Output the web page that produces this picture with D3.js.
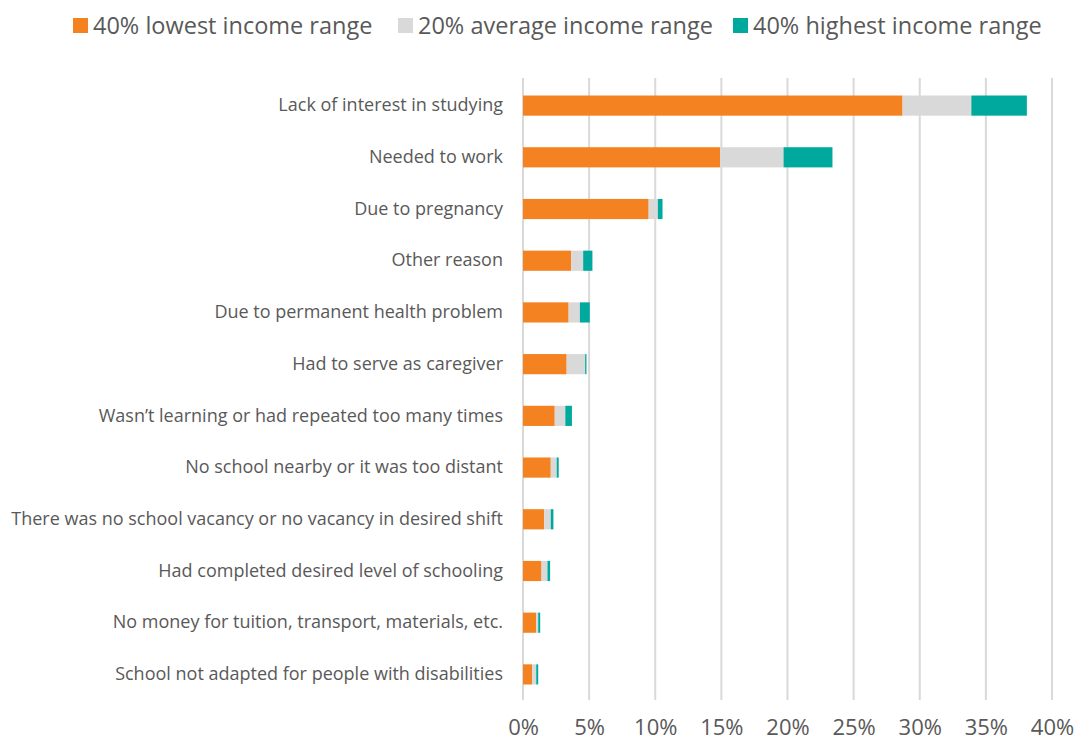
<!DOCTYPE html>
<html>
<head>
<meta charset="utf-8">
<script src="https://cdn.jsdelivr.net/npm/d3@7"></script>
<style>
  html, body { margin: 0; padding: 0; background: #fff; }
  svg { display: block; }
  text { font-family: "Open Sans", Lato, sans-serif; fill: #595959; }
</style>
</head>
<body>
<svg id="chart" width="1079" height="742"></svg>
<script>
// Reasons for leaving school, share of respondents by income range (%)
const categories = [
  "Lack of interest in studying",
  "Needed to work",
  "Due to pregnancy",
  "Other reason",
  "Due to permanent health problem",
  "Had to serve as caregiver",
  "Wasn\u2019t learning or had repeated too many times",
  "No school nearby or it was too distant",
  "There was no school vacancy or no vacancy in desired shift",
  "Had completed desired level of schooling",
  "No money for tuition, transport, materials, etc.",
  "School not adapted for people with disabilities"
];
const lowest  = [28.7, 14.9, 9.5, 3.65, 3.45, 3.3, 2.4, 2.1, 1.6, 1.4, 1.0, 0.7];
const average = [5.2, 4.8, 0.7, 0.9, 0.85, 1.4, 0.8, 0.45, 0.5, 0.45, 0.15, 0.3];
const highest = [4.2, 3.7, 0.35, 0.7, 0.75, 0.1, 0.5, 0.15, 0.2, 0.2, 0.15, 0.15];

const seriesNames = ["40% lowest income range", "20% average income range", "40% highest income range"];
const seriesColors = ["#F58220", "#D9D9D9", "#00A99D"];
const tickValues = [0, 5, 10, 15, 20, 25, 30, 35, 40];

const rows = categories.map((c, i) => ({ category: c, s0: lowest[i], s1: average[i], s2: highest[i] }));
const stack = d3.stack().keys(["s0", "s1", "s2"])(rows);

const svg = d3.select("#chart");
const x = d3.scaleLinear().domain([0, 40]).range([523, 1052]);
const y = d3.scaleBand().domain(categories).range([80, 700]).paddingInner(0.61).paddingOuter(0.3);

// vertical gridlines
svg.append("g").selectAll("line").data(tickValues).join("line")
  .attr("x1", d => x(d)).attr("x2", d => x(d))
  .attr("y1", 78).attr("y2", 700)
  .attr("stroke", "#D9D9D9").attr("stroke-width", 2);

// stacked bars
svg.append("g").selectAll("g").data(stack).join("g")
  .attr("fill", (d, i) => seriesColors[i])
  .selectAll("rect").data(d => d).join("rect")
  .attr("x", d => x(d[0]))
  .attr("width", d => x(d[1]) - x(d[0]))
  .attr("y", d => y(d.data.category))
  .attr("height", y.bandwidth());

// category labels
const yAxis = d3.axisLeft(y).tickSize(0).tickPadding(0);
const yg = svg.append("g").attr("transform", "translate(503,0)").call(yAxis);
yg.select(".domain").remove();
yg.selectAll("text").style("font-size", "18px").style("fill", "#595959")
  .style("font-family", "'Open Sans', sans-serif");

// percentage axis
const xAxis = d3.axisBottom(x).tickValues(tickValues).tickFormat(d => d + "%").tickSize(0).tickPadding(0);
const xg = svg.append("g").attr("transform", "translate(0,719)").call(xAxis);
xg.select(".domain").remove();
xg.selectAll("text").style("font-size", "22px").style("fill", "#595959")
  .style("font-family", "'Open Sans', sans-serif");

// legend
const legendX = [73, 398, 733];
const legend = svg.append("g").selectAll("g").data(seriesNames).join("g")
  .attr("transform", (d, i) => `translate(${legendX[i]},18)`);
legend.append("rect").attr("width", 15).attr("height", 15).attr("fill", (d, i) => seriesColors[i]);
legend.append("text").attr("x", 20).attr("y", 7.5).attr("dy", "0.35em")
  .style("font-size", "23.5px").text(d => d);
</script>
</body>
</html>
